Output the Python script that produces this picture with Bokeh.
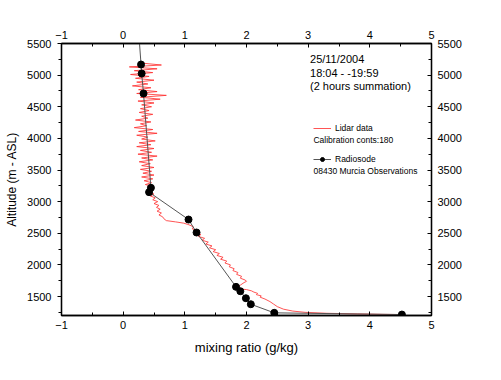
from bokeh.plotting import figure
from bokeh.models import (LinearAxis, SingleIntervalTicker, Range1d, Label,
                          Legend, LegendItem)
from bokeh.embed import file_html
from bokeh.resources import INLINE

FONT = "Liberation Sans"

# ---- data ----
lidar_alt = [5190, 5160, 5130, 5100, 5070, 5040, 5010, 4980, 4950, 4920,
             4890, 4860, 4830, 4800, 4770, 4740, 4710, 4680, 4650, 4620,
             4590, 4560, 4530, 4500, 4470, 4440, 4410, 4380, 4350, 4320,
             4290, 4260, 4230, 4200, 4170, 4140, 4110, 4080, 4050, 4020,
             3990, 3960, 3930, 3900, 3870, 3840, 3810, 3780, 3750, 3720,
             3690, 3660, 3630, 3600, 3570, 3540, 3510, 3480, 3450, 3420,
             3390, 3360, 3330, 3300, 3270, 3240, 3210, 3180, 3150,
             3120, 3090, 3060, 3030, 3000, 2970, 2940, 2910, 2880, 2850,
             2820, 2790, 2760, 2730, 2700, 2680, 2660, 2640, 2620, 2600,
             2570, 2540, 2510, 2480, 2450, 2420, 2390, 2360, 2330, 2300,
             2270, 2240, 2210, 2180, 2150, 2120, 2090, 2060, 2030, 2000,
             1970, 1940, 1910, 1880, 1850, 1820, 1790, 1760, 1740, 1720,
             1680, 1640, 1620, 1610, 1590, 1570, 1550, 1530, 1510, 1490,
             1460, 1420, 1380, 1340, 1300, 1270, 1250, 1235, 1225, 1218, 1215]
lidar_mr = [0.30, 0.62, 0.10, 0.55, 0.18, 0.48, 0.12, 0.42, 0.20, 0.50,
            0.22, 0.40, 0.15, 0.45, 0.25, 0.55, 0.22, 0.70, 0.28, 0.60,
            0.24, 0.50, 0.30, 0.46, 0.28, 0.42, 0.26, 0.48, 0.30, 0.40,
            0.20, 0.45, 0.28, 0.38, 0.18, 0.48, 0.25, 0.55, 0.22, 0.40,
            0.30, 0.52, 0.26, 0.45, 0.22, 0.50, 0.28, 0.46, 0.24, 0.55,
            0.30, 0.48, 0.26, 0.44, 0.30, 0.50, 0.28, 0.46, 0.32, 0.50,
            0.30, 0.48, 0.34, 0.46, 0.36, 0.50, 0.40, 0.48, 0.42,
            0.50, 0.44, 0.52, 0.48, 0.56, 0.50, 0.58, 0.54, 0.60, 0.55,
            0.62, 0.58, 0.64, 0.66, 0.70, 0.85, 0.98, 1.05, 1.10, 1.14,
            1.12, 1.20, 1.18, 1.26, 1.22, 1.32, 1.28, 1.38, 1.34, 1.44,
            1.40, 1.50, 1.46, 1.56, 1.52, 1.62, 1.58, 1.68, 1.65, 1.74,
            1.72, 1.80, 1.78, 1.86, 1.84, 1.92, 1.90, 1.98, 2.00, 1.96,
            1.90, 1.84, 1.86, 2.00, 2.08, 2.12, 2.18, 2.16, 2.24, 2.22,
            2.30, 2.38, 2.44, 2.50, 2.60, 2.75, 2.95, 3.30, 3.80, 4.20, 4.52]

sonde_alt = [5700, 5168, 5026, 4710, 3219, 3150, 2717, 2512, 1653, 1584,
             1473, 1378, 1242, 1215]
sonde_mr = [0.25, 0.29, 0.30, 0.33, 0.45, 0.42, 1.06, 1.19, 1.83, 1.90,
            1.99, 2.07, 2.45, 4.52]

x_ticks_interval = 1
y_ticks_interval = 500

header_lines = ["25/11/2004", "18:04 - -19:59", "(2 hours summation)"]
header_y = [5250, 5035, 4825]
legend_lidar = ["Lidar data", "Calibration conts:180"]
legend_sonde = ["Radiosode", "08430 Murcia Observations"]
legend_sub_y = [3982, 3484]

# ---- figure ----
p = figure(width=491, height=371, output_backend="svg", toolbar_location=None,
           x_range=Range1d(-1, 5), y_range=Range1d(1200, 5500),
           min_border_left=61, min_border_right=60, min_border_top=43,
           min_border_bottom=56, x_axis_location=None, y_axis_location=None)
p.xgrid.visible = False
p.ygrid.visible = False
p.outline_line_color = "black"
p.outline_line_width = 1.3
p.background_fill_color = "white"
p.border_fill_color = "white"


def style_axis(ax, tin, tout, standoff):
    ax.axis_line_color = "black"
    ax.axis_line_width = 1.3
    ax.major_tick_line_color = "black"
    ax.minor_tick_line_color = "black"
    ax.major_tick_in = tin
    ax.major_tick_out = tout
    ax.minor_tick_in = 3 if tin else 0
    ax.minor_tick_out = 3 if tout else 0
    ax.major_label_text_font = FONT
    ax.major_label_text_font_size = "11px"
    ax.major_label_text_color = "black"
    ax.major_label_standoff = standoff
    ax.axis_label_text_font = FONT
    ax.axis_label_text_font_style = "normal"
    ax.axis_label_text_color = "black"


bottom = LinearAxis(ticker=SingleIntervalTicker(interval=x_ticks_interval, num_minor_ticks=2),
                    axis_label="mixing ratio (g/kg)")
style_axis(bottom, 4, 0, 5)
bottom.axis_label_text_font_size = "13px"
bottom.axis_label_standoff = 8
p.add_layout(bottom, "below")

top = LinearAxis(ticker=SingleIntervalTicker(interval=x_ticks_interval, num_minor_ticks=2))
style_axis(top, 4, 0, 5)
p.add_layout(top, "above")

left = LinearAxis(ticker=SingleIntervalTicker(interval=y_ticks_interval, num_minor_ticks=2),
                  axis_label="Altitude (m - ASL)")
style_axis(left, 0, 4, 6)
left.axis_label_text_font_size = "12px"
left.axis_label_standoff = 5
p.add_layout(left, "left")

right = LinearAxis(ticker=SingleIntervalTicker(interval=y_ticks_interval, num_minor_ticks=2))
style_axis(right, 4, 0, 6)
p.add_layout(right, "right")

# ---- data glyphs ----
lidar_r = p.line(lidar_mr, lidar_alt, line_color="#ff2a2a", line_width=1, line_alpha=0.8)
sonde_line = p.line(sonde_mr, sonde_alt, line_color="#555555", line_width=1)
p.scatter(sonde_mr, sonde_alt, size=7, fill_color="black", line_color="black")
# small black dots drawn on top of the big ones (invisible in plot), used for the legend sample
sonde_small = p.scatter(sonde_mr, sonde_alt, size=4, fill_color="black", line_color="black")

legend = Legend(items=[LegendItem(label=legend_lidar[0], renderers=[lidar_r]),
                       LegendItem(label=legend_sonde[0], renderers=[sonde_line, sonde_small])],
                location=(252, 151), padding=0, margin=0, spacing=21,
                glyph_width=18, glyph_height=10, label_height=10,
                label_standoff=4, label_text_font=FONT,
                label_text_font_size="8.5px", label_text_color="black",
                border_line_alpha=0, background_fill_alpha=0)
p.add_layout(legend, "center")

# ---- text annotations ----
for txt, yy in zip(header_lines, header_y):
    p.add_layout(Label(x=3.03, y=yy, text=txt, text_font=FONT, text_font_size="11px",
                       text_baseline="middle", text_align="left", text_color="black"))

for txt, yy in zip([legend_lidar[1], legend_sonde[1]], legend_sub_y):
    p.add_layout(Label(x=3.086, y=yy, text=txt, text_font=FONT, text_font_size="8.5px",
                       text_baseline="middle", text_align="left", text_color="black"))

open("out.html", "w").write(file_html(p, INLINE))
